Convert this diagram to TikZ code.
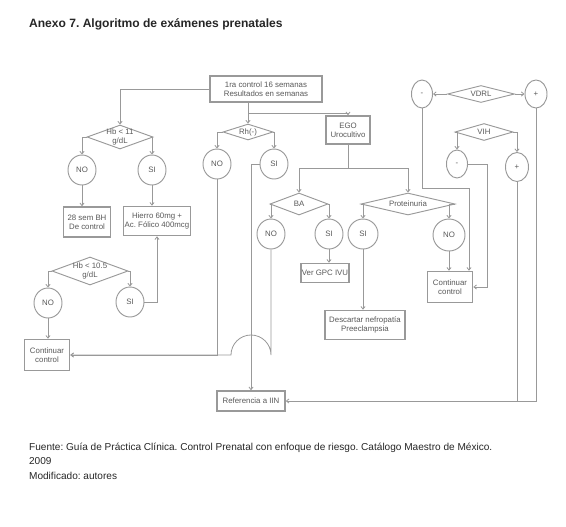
\documentclass[tikz,border=0pt]{standalone}
\usepackage{fontspec}
\setmainfont{Liberation Sans}
\usepackage{tikz}
\usetikzlibrary{shapes.geometric,arrows.meta,calc,positioning}
\definecolor{linea}{rgb}{0.6,0.6,0.6}
\definecolor{texto}{rgb}{0.35,0.35,0.35}
\newdimen\pxu
\pxu=0.03cm
\frenchspacing
\begin{document}
\begin{tikzpicture}[x=0.03cm,y=-0.03cm,
    >={Straight Barb[length=2.2pt,width=3.6pt]},
    flujo/.style={draw=linea, line width=0.7pt},
    caja/.style={draw=linea, line width=1.4pt, fill=white, align=center, text=texto, font=\fontsize{6.7}{7.4}\selectfont, inner sep=1pt},
    rombo/.style={diamond, draw=linea, line width=0.8pt, inner sep=0pt},
    ovalo/.style={ellipse, draw=linea, line width=0.8pt, inner sep=0pt, text=texto, font=\fontsize{6.7}{7.4}\selectfont, minimum width=28\pxu, minimum height=30\pxu},
    etiq/.style={text=texto, font=\fontsize{6.7}{7.4}\selectfont, align=center}]
            \useasboundingbox (0,0) rectangle (566,526);
            %Titulo
            \node[anchor=base west, text=black!85, font=\fontsize{10.3}{12}\selectfont\bfseries] (titulo) at (25,27) {Anexo 7. Algoritmo de exámenes prenatales};
            %Cajas
            \node[caja, minimum width=112\pxu, minimum height=26\pxu] (inicio) at (266,89) {1ra control 16 semanas\\Resultados en semanas};
            \node[caja, minimum width=47\pxu, minimum height=30\pxu] (sem28) at (87,222) {28 sem BH\\De control};
            \node[caja, minimum width=67\pxu, minimum height=29\pxu] (hierro) at (157,221) {Hierro 60mg +\\Ac. Fólico 400mcg};
            \node[caja, minimum width=45\pxu, minimum height=31\pxu] (cont1) at (47,355) {Continuar\\control};
            \node[caja, minimum width=44\pxu, minimum height=28\pxu] (ego) at (348,130) {EGO\\Urocultivo};
            \node[caja, minimum width=45\pxu, minimum height=19\pxu] (gpc) at (325,273) {Ver GPC IVU};
            \node[caja, minimum width=80\pxu, minimum height=29\pxu] (desc) at (365,325) {Descartar nefropatía\\Preeclampsia};
            \node[caja, minimum width=45\pxu, minimum height=31\pxu] (cont2) at (450,287) {Continuar\\control};
            \node[caja, minimum width=68\pxu, minimum height=20\pxu] (ref) at (251,401) {Referencia a IIN};
            %Rombos
            \node[rombo, minimum width=66\pxu, minimum height=24\pxu, label={[etiq]center:{Hb < 11\\g/dL}}] (hb11) at (120,137) {};
            \node[rombo, minimum width=76\pxu, minimum height=28\pxu, label={[etiq]center:{Hb < 10.5\\g/dL}}] (hb105) at (90,271) {};
            \node[rombo, minimum width=50\pxu, minimum height=16\pxu, label={[etiq]center:Rh(-)}] (rh) at (248,132) {};
            \node[rombo, minimum width=58\pxu, minimum height=22\pxu, label={[etiq]center:BA}] (ba) at (299,204) {};
            \node[rombo, minimum width=94\pxu, minimum height=22\pxu, label={[etiq]center:Proteinuria}] (prot) at (408,204) {};
            \node[rombo, minimum width=67\pxu, minimum height=17\pxu, label={[etiq]center:VDRL}] (vdrl) at (481,94) {};
            \node[rombo, minimum width=58\pxu, minimum height=17\pxu, label={[etiq]center:VIH}] (vih) at (484,132) {};
            %Ovalos
            \node[ovalo] (no1) at (82,170) {NO};
            \node[ovalo] (si1) at (152,170) {SI};
            \node[ovalo] (no2) at (48,303) {NO};
            \node[ovalo] (si2) at (130,302) {SI};
            \node[ovalo] (norh) at (217,164) {NO};
            \node[ovalo] (sirh) at (274,164) {SI};
            \node[ovalo] (noba) at (271,234) {NO};
            \node[ovalo] (siba) at (329,234) {SI};
            \node[ovalo, minimum width=30\pxu] (siprot) at (363,234) {SI};
            \node[ovalo, minimum width=32\pxu, minimum height=32\pxu] (noprot) at (449,235) {NO};
            \node[ovalo, minimum width=21\pxu, minimum height=28\pxu] (vneg) at (422,94) {-};
            \node[ovalo, minimum width=22\pxu, minimum height=28\pxu] (vpos) at (536,94) {+};
            \node[ovalo, minimum width=21\pxu, minimum height=28\pxu] (hneg) at (457,164) {-};
            \node[ovalo, minimum width=23\pxu, minimum height=29\pxu] (hpos) at (517,167) {+};
            %Conectores
            \coordinate (j1) at (248,113);
            \coordinate (j2) at (348,168);
            \coordinate (k1) at (469,188);
            \coordinate (k2) at (487,287);
            \draw[flujo,->] (inicio.west) -| (hb11.north);
            \draw[flujo,->] (inicio.south -| rh.north) -- (rh.north);
            \draw[flujo,->] (j1) -| (ego.north);
            \draw[flujo,->] (hb11.west) -| (no1.north);
            \draw[flujo,->] (hb11.east) -| (si1.north);
            \draw[flujo,->] (no1.south) -- (no1.south |- sem28.north);
            \draw[flujo,->] (si1.south) -- (si1.south |- hierro.north);
            \draw[flujo,->] (hb105.west) -| (no2.north);
            \draw[flujo,->] (hb105.east) -| (si2.north);
            \draw[flujo,->] (no2.south) -- (no2.south |- cont1.north);
            \draw[flujo,->] (si2.east) -| (hierro.south);
            \draw[flujo,->] (rh.west) -| (norh.north);
            \draw[flujo,->] (rh.east) -| (sirh.north);
            \draw[flujo,->] (norh.south) |- (cont1.east);
            \draw[flujo,->] (sirh.west) -| (ref.north);
            \draw[flujo,->] (noba.south) -- (noba.south |- cont1.east) arc[start angle=0, end angle=180, radius=20\pxu] -- (cont1.east);
            \draw[flujo] (ego.south) -- (j2);
            \draw[flujo,->] (j2) -| (ba.north);
            \draw[flujo,->] (j2) -| (prot.north);
            \draw[flujo,->] (ba.west) -| (noba.north);
            \draw[flujo,->] (ba.east) -| (siba.north);
            \draw[flujo,->] (siba.south) -- (siba.south |- gpc.north);
            \draw[flujo,->] (prot.west) -| (siprot.north);
            \draw[flujo,->] (prot.east) -| (noprot.north);
            \draw[flujo,->] (siprot.south) -- (siprot.south |- desc.north);
            \draw[flujo,->] (noprot.south) -- (noprot.south |- cont2.north);
            \draw[flujo,->] (vdrl.west) -- (vneg.east);
            \draw[flujo,->] (vdrl.east) -- (vpos.west);
            \draw[flujo,->] (vneg.south) |- (k1) -- (k1 |- cont2.north);
            \draw[flujo,->] (vih.west) -| (hneg.north);
            \draw[flujo,->] (vih.east) -| (hpos.north);
            \draw[flujo,->] (hneg.east) -| (k2) -- (cont2.east);
            \draw[flujo,->] (vpos.south) |- (ref.east);
            \draw[flujo] (hpos.south) -- (hpos.south |- ref.east);
            %Fuente
            \node[anchor=base west, align=left, text=black!85, font=\fontsize{8.6}{12.3}\selectfont] (fuente) at (25,479) {Fuente: Guía de Práctica Clínica. Control Prenatal con enfoque de riesgo. Catálogo Maestro de México.\\2009\\Modificado: autores};
        \end{tikzpicture}
\end{document}
